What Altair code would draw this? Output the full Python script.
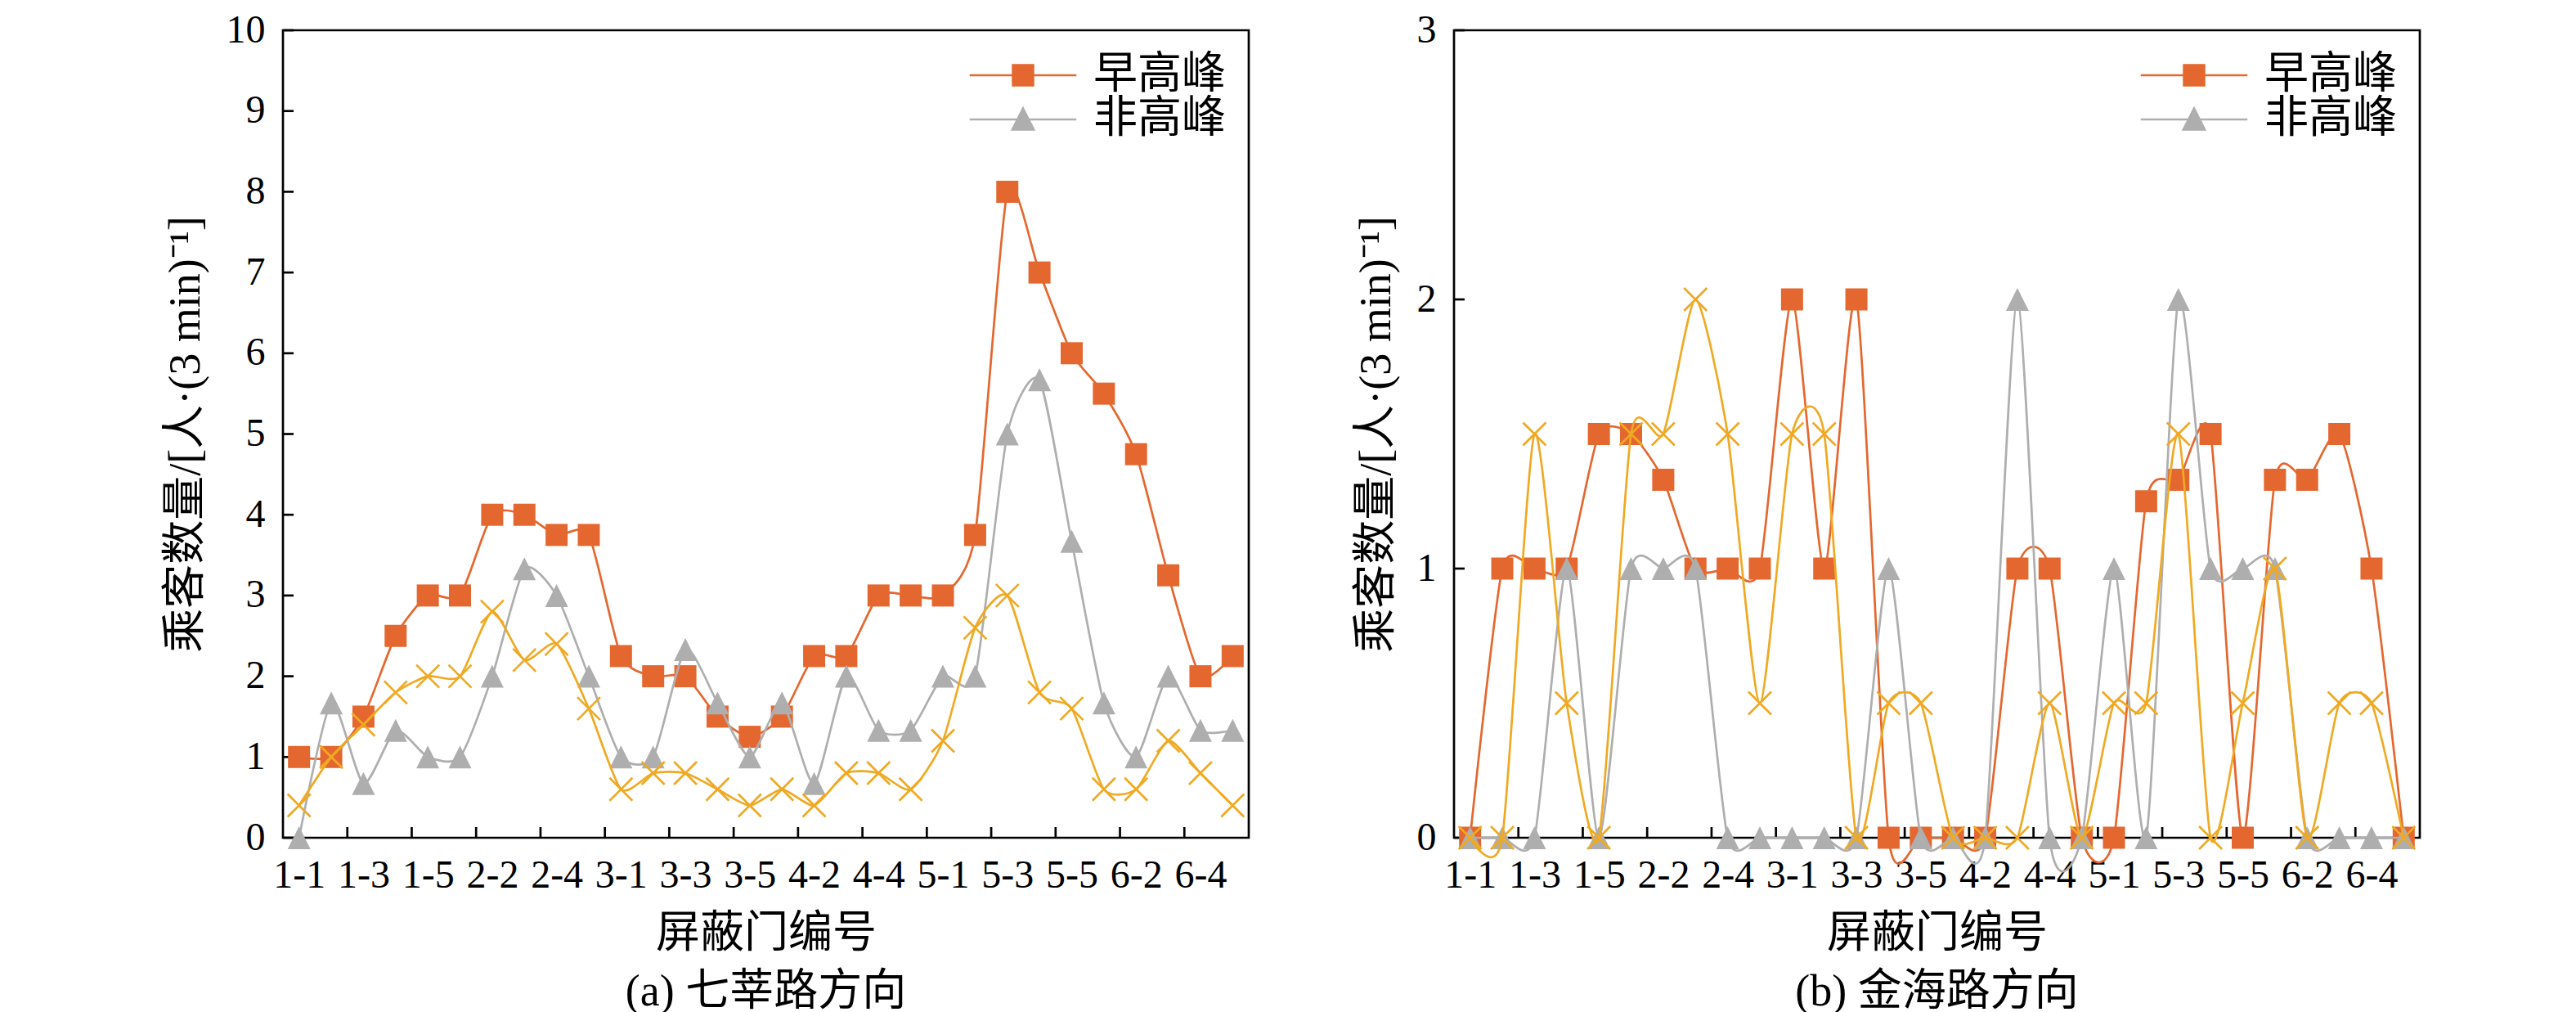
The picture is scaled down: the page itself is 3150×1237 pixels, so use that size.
import json
import altair as alt
import pandas as pd

FONT = "Liberation Serif, Noto Sans CJK SC"
ORANGE = "#E4672F"
GRAY = "#AEAEAE"
YELLOW = "#EFA923"
W, H = 1181, 987

gates = ["1-1", "1-2", "1-3", "1-4", "1-5", "2-1", "2-2", "2-3", "2-4", "2-5",
         "3-1", "3-2", "3-3", "3-4", "3-5", "4-1", "4-2", "4-3", "4-4", "4-5",
         "5-1", "5-2", "5-3", "5-4", "5-5", "6-1", "6-2", "6-3", "6-4", "6-5"]
pos = list(range(1, 31))
label_pos = list(range(1, 30, 2))
tick_pos = [2.5, 4.5, 6.5, 8.5, 10.5, 12.5, 14.5, 16.5, 18.5, 20.5, 22.5, 24.5, 26.5, 28.5]

# (a) 七莘路方向
a_peak = [1, 1, 1.5, 2.5, 3, 3, 4, 4, 3.75, 3.75, 2.25, 2, 2, 1.5, 1.25,
          1.5, 2.25, 2.25, 3, 3, 3, 3.75, 8, 7, 6, 5.5, 4.75, 3.25, 2, 2.25]
a_off = [0, 1.67, 0.67, 1.33, 1, 1, 2, 3.33, 3, 2, 1, 1, 2.33, 1.67, 1,
         1.67, 0.67, 2, 1.33, 1.33, 2, 2, 5, 5.67, 3.67, 1.67, 1, 2, 1.33, 1.33]
a_other = [0.4, 1, 1.4, 1.8, 2, 2, 2.8, 2.2, 2.4, 1.6, 0.6, 0.8, 0.8, 0.6, 0.4,
           0.6, 0.4, 0.8, 0.8, 0.6, 1.2, 2.6, 3, 1.8, 1.6, 0.6, 0.6, 1.2, 0.8, 0.4]
a_yticks = [0, 1, 2, 3, 4, 5, 6, 7, 8, 9, 10]

# (b) 金海路方向
b_peak = [0, 1, 1, 1, 1.5, 1.5, 1.33, 1, 1, 1, 2, 1, 2, 0, 0,
          0, 0, 1, 1, 0, 0, 1.25, 1.33, 1.5, 0, 1.33, 1.33, 1.5, 1, 0]
b_off = [0, 0, 0, 1, 0, 1, 1, 1, 0, 0, 0, 0, 0, 1, 0,
         0, 0, 2, 0, 0, 1, 0, 2, 1, 1, 1, 0, 0, 0, 0]
b_other = [0, 0, 1.5, 0.5, 0, 1.5, 1.5, 2, 1.5, 0.5, 1.5, 1.5, 0, 0.5, 0.5,
           0, 0, 0, 0.5, 0, 0.5, 0.5, 1.5, 0, 0.5, 1, 0, 0.5, 0.5, 0]
b_yticks = [0, 1, 2, 3]

legend_names = ["早高峰", "非高峰"]
TRI = "M0,-1L1,1L-1,1Z"
CROSS = "M-1,-1L1,1M-1,1L1,-1"
SQ_LEG = "M-2.9,0H2.9M-0.55,-0.55H0.55V0.55H-0.55Z"
TRI_LEG = "M-2.9,0H2.9M0,-0.6L0.58,0.55H-0.58Z"
label_expr = json.dumps(gates) + "[datum.value - 1]"


def panel(peak, off, other, yticks, caption):
    df = pd.DataFrame({
        "pos": pos * 3,
        "series": ["早高峰"] * 30 + ["非高峰"] * 30 + ["其他"] * 30,
        "value": peak + off + other,
    })
    xscale = alt.Scale(domain=[0.5, 30.5], nice=False, zero=False)
    yscale = alt.Scale(domain=[0, yticks[-1]], nice=False)
    xaxis = alt.Axis(values=label_pos, labelExpr=label_expr, ticks=False, domain=False,
                     grid=False, labelPadding=22, title="屏蔽门编号", titlePadding=20)
    yaxis = alt.Axis(values=yticks, format="d", ticks=False, domain=False, grid=False,
                     labelPadding=22, title="乘客数量/[人·(3 min)⁻¹]", titlePadding=22)
    x = alt.X("pos:Q", scale=xscale, axis=xaxis)
    y = alt.Y("value:Q", scale=yscale, axis=yaxis)
    base = alt.Chart(df).encode(x=x, y=y)

    # inward tick marks
    xt = alt.Chart(pd.DataFrame({"pos": tick_pos})).mark_rule(color="black", strokeWidth=2.7).encode(
        x=x, y=alt.value(H), y2=alt.value(H - 13))
    yt = alt.Chart(pd.DataFrame({"value": yticks})).mark_rule(color="black", strokeWidth=2.7).encode(
        y=y, x=alt.value(0), x2=alt.value(13))

    layers = [xt, yt]
    for name, color, shape, filled, size in [("早高峰", ORANGE, "square", True, 729),
                                              ("非高峰", GRAY, TRI, True, 784),
                                              ("其他", YELLOW, CROSS, False, 784)]:
        sub = base.transform_filter(alt.datum.series == name)
        layers.append(sub.mark_line(interpolate="cardinal", tension=0.35, color=color, strokeWidth=2.7))
        layers.append(sub.mark_point(shape=shape, filled=filled, size=size, color=color,
                                     opacity=1, strokeWidth=2.7))

    # legend only (no marks drawn): line + marker symbols
    leg_scale = dict(domain=legend_names, range=[ORANGE, GRAY])
    legend = alt.Legend(title=None, orient="top-right", offset=28, padding=0,
                        labelFont=FONT, labelFontSize=54, labelColor="black", labelOffset=59,
                        labelLimit=0, symbolSize=2025, symbolStrokeWidth=2.7, symbolOpacity=1,
                        rowPadding=0)
    leg = base.transform_filter(alt.datum.pos < 0).mark_point(
        filled=True, size=2025, opacity=1, strokeWidth=2.7).encode(
        shape=alt.Shape("series:N", scale=alt.Scale(domain=legend_names, range=[SQ_LEG, TRI_LEG]),
                        legend=legend),
        fill=alt.Fill("series:N", scale=alt.Scale(**leg_scale), legend=legend),
        stroke=alt.Stroke("series:N", scale=alt.Scale(**leg_scale), legend=legend),
    )
    layers.append(leg)

    return alt.layer(*layers).properties(
        width=W, height=H,
        title=alt.TitleParams(caption, orient="bottom", anchor="middle", font=FONT,
                              fontSize=54, fontWeight="normal", color="black", offset=18),
    )


left = panel(a_peak, a_off, a_other, a_yticks, "(a) 七莘路方向")
right = panel(b_peak, b_off, b_other, b_yticks, "(b) 金海路方向")

chart = alt.hconcat(left, right, spacing=125).resolve_scale(
    x="independent", y="independent", shape="independent", fill="independent", stroke="independent"
).resolve_legend(
    shape="independent", fill="independent", stroke="independent"
).properties(
    padding={"left": 190, "top": 3, "right": 10, "bottom": 0}
).configure_view(
    stroke="black", strokeWidth=2.7
).configure_axis(
    labelFont=FONT, labelFontSize=48, labelColor="black",
    titleFont=FONT, titleFontSize=54, titleFontWeight="normal", titleColor="black",
)

chart.save("out.html", embed_options={"renderer": "svg", "actions": False})
